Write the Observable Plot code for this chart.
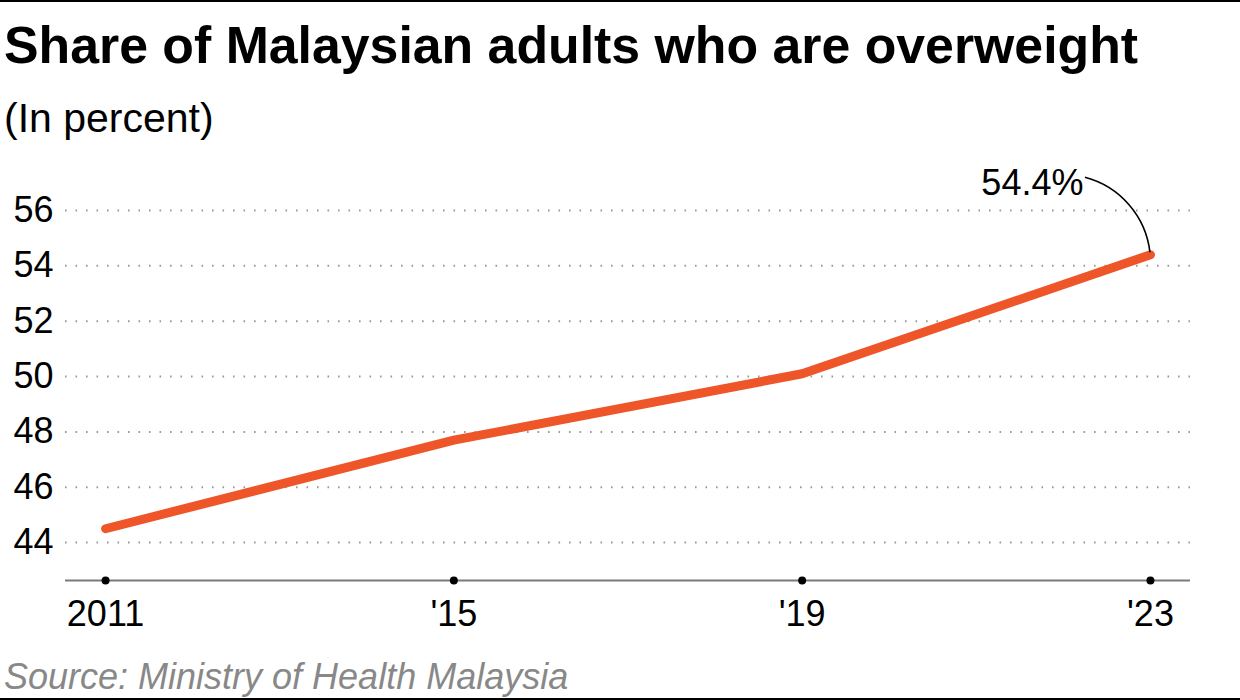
<!DOCTYPE html>
<html>
<head>
<meta charset="utf-8">
<script src="https://cdn.jsdelivr.net/npm/d3@7"></script>
<script src="https://cdn.jsdelivr.net/npm/@observablehq/plot@0.6"></script>
<style>
  html, body { margin: 0; padding: 0; background: #fff; }
  #wrap { position: relative; width: 1240px; height: 700px; overflow: hidden; font-family: "Liberation Sans", Arial, Helvetica, sans-serif; }
  #topline { position: absolute; left: 0; top: 0; width: 1240px; height: 2px; background: #000; }
  #botline { position: absolute; left: 0; top: 698px; width: 1240px; height: 2px; background: #000; }
  #title { position: absolute; left: 4px; top: 20px; font-size: 51.8px; line-height: 1; font-weight: bold; color: #000; white-space: nowrap; }
  #subtitle { position: absolute; left: 4px; top: 98px; font-size: 41px; line-height: 1; color: #000; white-space: nowrap; }
  #chart { position: absolute; left: 0; top: 150px; }
  #source { position: absolute; left: 4px; top: 659px; font-size: 36px; line-height: 1; font-style: italic; color: #888; white-space: nowrap; }
</style>
</head>
<body>
<div id="wrap">
  <div id="topline"></div>
  <div id="title">Share of Malaysian adults who are overweight</div>
  <div id="subtitle">(In percent)</div>
  <div id="chart"></div>
  <div id="source">Source: Ministry of Health Malaysia</div>
  <div id="botline"></div>
</div>
<script>
// Data
const years = [2011, 2015, 2019, 2023];
const shares = [44.5, 47.7, 50.1, 54.4];
const xTickLabels = ["2011", "'15", "'19", "'23"];
const yTicks = [44, 46, 48, 50, 52, 54, 56];
const yDomain = [42.63, 56];
const xDomain = [2010.54, 2023.46];

const data = years.map((year, i) => ({year, value: shares[i]}));
const last = data[data.length - 1];

// connector curve from the label to the last point, positioned via the scales
function connector(index, scales) {
  const px = scales.x(last.year);
  const py = scales.y(last.value);
  const sx = px - 65, sy = py - 77;
  const ex = px, ey = py - 2;
  const path = d3.create("svg:path")
    .attr("d", `M${sx},${sy} A88,88 0 0 1 ${ex},${ey}`)
    .attr("fill", "none")
    .attr("stroke", "#000")
    .attr("stroke-width", 1.6);
  return path.node();
}

const chart = Plot.plot({
  width: 1240,
  height: 500,
  marginTop: 60,
  marginBottom: 70,
  marginLeft: 65,
  marginRight: 50,
  style: { fontFamily: "'Liberation Sans', Arial, Helvetica, sans-serif", background: "transparent", overflow: "visible" },
  x: { domain: xDomain, label: null },
  y: { domain: yDomain, label: null },
  marks: [
    Plot.gridY(yTicks, { stroke: "#9a9a9a", strokeOpacity: 1, strokeWidth: 2, strokeDasharray: "1.6,8.9" }),
    Plot.axisY(yTicks, { tickSize: 0, tickPadding: 12, fontSize: 36, fill: "#000", label: null, tickFormat: d => String(d) }),
    Plot.ruleY([yDomain[0]], { stroke: "#7a7a7a", strokeWidth: 2 }),
    Plot.axisX(years, { tickSize: 0, tickPadding: 20, fontSize: 36, fill: "#000", label: null, tickFormat: d => xTickLabels[years.indexOf(d)] }),
    Plot.dot(years, { x: d => d, frameAnchor: "bottom", r: 4, fill: "#000", stroke: "none" }),
    Plot.line(data, { x: "year", y: "value", stroke: "#ee5528", strokeWidth: 9, strokeLinecap: "round", strokeLinejoin: "round" }),
    connector,
    Plot.text([last], { x: "year", y: "value", text: d => `${d.value}%`, textAnchor: "end", dx: -67, dy: -71, fontSize: 36, fill: "#000" })
  ]
});

document.getElementById("chart").appendChild(chart);
</script>
</body>
</html>
